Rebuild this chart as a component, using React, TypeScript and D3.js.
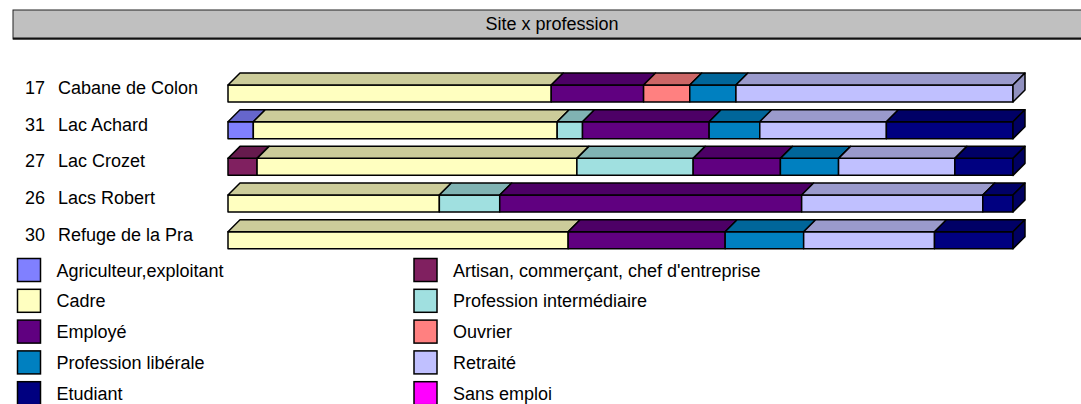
import React from "react";
import * as d3 from "d3";

// Sites (rows of the chart)
const sites = ["Cabane de Colon", "Lac Achard", "Lac Crozet", "Lacs Robert", "Refuge de la Pra"];

// Professions, in stacking and legend order
const professions = [
  "Agriculteur,exploitant",
  "Artisan, commerçant, chef d'entreprise",
  "Cadre",
  "Profession intermédiaire",
  "Employé",
  "Ouvrier",
  "Profession libérale",
  "Retraité",
  "Etudiant",
  "Sans emploi",
];

const professionColors = [
  "#8080FF", "#802060", "#FFFFC0", "#A0E0E0", "#600080",
  "#FF8080", "#0080C0", "#C0C0FF", "#000080", "#FF00FF",
];

// Respondent counts per site, one array per profession
const agriculteur = [0, 1, 0, 0, 0];
const artisan = [0, 0, 1, 0, 0];
const cadre = [7, 12, 11, 7, 13];
const intermediaire = [0, 1, 4, 2, 0];
const employe = [2, 5, 3, 10, 6];
const ouvrier = [1, 0, 0, 0, 0];
const liberale = [1, 2, 2, 0, 3];
const retraite = [6, 5, 4, 6, 5];
const etudiant = [0, 5, 2, 1, 3];
const sansEmploi = [0, 0, 0, 0, 0];

const seriesValues = [
  agriculteur, artisan, cadre, intermediaire, employe,
  ouvrier, liberale, retraite, etudiant, sansEmploi,
];

const W = 1081;
const H = 404;
const FONT = "'Liberation Sans', Arial, sans-serif";

const DX = 12; // 3D depth offset
const DY = 12;

function shade(c: string, k: number) {
  const rgb = d3.rgb(c);
  return d3.rgb(rgb.r * k, rgb.g * k, rgb.b * k).formatHex();
}

export default function App() {
  const keys = professions.map((_, i) => "p" + i);
  const table = sites.map((s, si) => {
    const row: any = { site: s };
    keys.forEach((k, ki) => (row[k] = seriesValues[ki][si]));
    return row;
  });
  const totals = sites.map((_, si) => d3.sum(seriesValues, (v) => v[si]));

  const stacked = d3.stack<any>().keys(keys).offset(d3.stackOffsetExpand)(table);

  const x = d3.scaleLinear().domain([0, 1]).range([228, 1013]);
  const step = 36.67;
  const y = d3
    .scaleBand()
    .domain(sites)
    .range([75.17, 75.17 + step * sites.length])
    .paddingInner(19.67 / step)
    .paddingOuter(19.67 / step / 2);
  const bh = y.bandwidth();

  // legend grid: two columns, row-major
  const legendCols = [17.5, 414];
  const legendTop = 258.5;
  const legendStep = 30.8;
  const sw = 23;

  const stroke = "#000";
  const sWidth = 1.5;

  return (
    <svg
      width={W}
      height={H}
      style={{ position: "absolute", left: 0, top: 0, background: "#fff" }}
      fontFamily={FONT}
    >
      {/* title band */}
      <rect x={13} y={10} width={1100} height={29} fill="#C0C0C0" stroke="#222" strokeWidth={1} />
      <line x1={13} x2={1100} y1={38.5} y2={38.5} stroke="#111" strokeWidth={2} />
      <text x={552} y={30} fontSize={18} textAnchor="middle" fill="#000">
        Site x profession
      </text>

      {/* category labels */}
      {sites.map((s, si) => {
        const cy = (y(s) as number) + bh / 2 - DY / 2;
        return (
          <g key={s}>
            <text x={25} y={cy + 6.5} fontSize={18} fill="#000">
              {totals[si]}
            </text>
            <text x={58} y={cy + 6.5} fontSize={18} fill="#000">
              {s}
            </text>
          </g>
        );
      })}

      {/* 3D stacked bars */}
      {sites.map((s, si) => {
        const yt = y(s) as number;
        const segs = stacked
          .map((layer, ki) => ({ ki, x0: x(layer[si][0]), x1: x(layer[si][1]) }))
          .filter((d) => d.x1 - d.x0 > 0.01);
        const last = segs[segs.length - 1];
        return (
          <g key={s}>
            {segs.map((d) => {
              const c = professionColors[d.ki];
              return (
                <g key={d.ki}>
                  <rect x={d.x0} y={yt} width={d.x1 - d.x0} height={bh} fill={c} stroke={stroke} strokeWidth={sWidth} strokeLinejoin="round" />
                  <polygon
                    points={`${d.x0},${yt} ${d.x1},${yt} ${d.x1 + DX},${yt - DY} ${d.x0 + DX},${yt - DY}`}
                    fill={shade(c, 0.8)}
                    stroke={stroke}
                    strokeWidth={sWidth}
                    strokeLinejoin="round"
                  />
                </g>
              );
            })}
            <polygon
              points={`${last.x1},${yt} ${last.x1 + DX},${yt - DY} ${last.x1 + DX},${yt - DY + bh} ${last.x1},${yt + bh}`}
              fill={shade(professionColors[last.ki], 0.75)}
              stroke={stroke}
              strokeWidth={sWidth}
              strokeLinejoin="round"
            />
          </g>
        );
      })}

      {/* legend */}
      {professions.map((p, i) => {
        const col = i % 2;
        const row = Math.floor(i / 2);
        const lx = legendCols[col];
        const ly = legendTop + row * legendStep;
        return (
          <g key={p}>
            <rect x={lx} y={ly} width={sw} height={sw} fill={professionColors[i]} stroke={stroke} strokeWidth={sWidth} />
            <text x={lx + sw + 16} y={ly + sw / 2 + 6.5} fontSize={18} fill="#000">
              {p}
            </text>
          </g>
        );
      })}
    </svg>
  );
}
